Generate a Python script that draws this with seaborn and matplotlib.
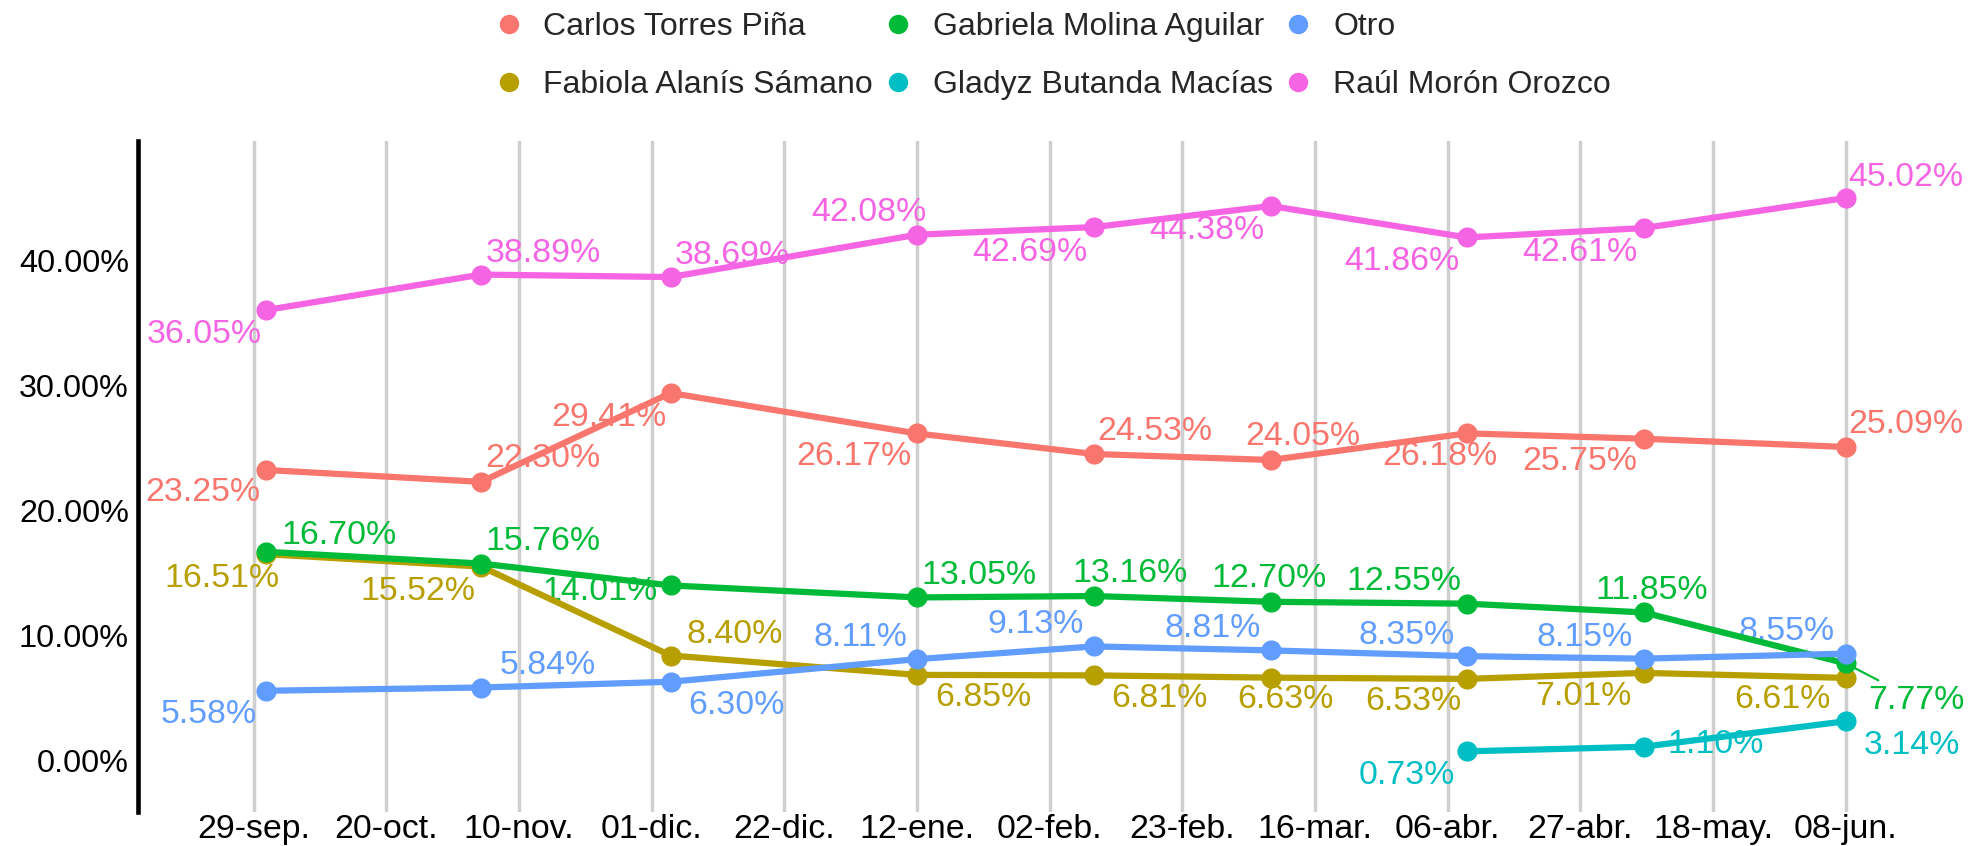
import numpy as np
import pandas as pd
import matplotlib
matplotlib.use("Agg")
import matplotlib.pyplot as plt
import matplotlib.dates as mdates
from matplotlib.lines import Line2D
import seaborn as sns

# ---------------- data ----------------
poll_dates = ["2024-10-01", "2024-11-04", "2024-12-04", "2025-01-12", "2025-02-09",
              "2025-03-09", "2025-04-09", "2025-05-07", "2025-06-08"]

carlos   = [23.25, 22.30, 29.41, 26.17, 24.53, 24.05, 26.18, 25.75, 25.09]
fabiola  = [16.51, 15.52, 8.40, 6.85, 6.81, 6.63, 6.53, 7.01, 6.61]
gabriela = [16.70, 15.76, 14.01, 13.05, 13.16, 12.70, 12.55, 11.85, 7.77]
gladyz   = [None, None, None, None, None, None, 0.73, 1.10, 3.14]
otro     = [5.58, 5.84, 6.30, 8.11, 9.13, 8.81, 8.35, 8.15, 8.55]
raul     = [36.05, 38.89, 38.69, 42.08, 42.69, 44.38, 41.86, 42.61, 45.02]

candidates = ["Carlos Torres Piña", "Fabiola Alanís Sámano", "Gabriela Molina Aguilar",
              "Gladyz Butanda Macías", "Otro", "Raúl Morón Orozco"]
series = [carlos, fabiola, gabriela, gladyz, otro, raul]

tick_dates = ["2024-09-29", "2024-10-20", "2024-11-10", "2024-12-01", "2024-12-22",
              "2025-01-12", "2025-02-02", "2025-02-23", "2025-03-16", "2025-04-06",
              "2025-04-27", "2025-05-18", "2025-06-08"]
tick_labels = ["29-sep.", "20-oct.", "10-nov.", "01-dic.", "22-dic.", "12-ene.", "02-feb.",
               "23-feb.", "16-mar.", "06-abr.", "27-abr.", "18-may.", "08-jun."]
y_ticks = [0, 10, 20, 30, 40]

# ---------------- style ----------------
colors = ["#F8766D", "#B79F00", "#00BA38", "#00BFC4", "#619CFF", "#F564E3"]

# label offsets (pixels, text centre relative to point)
label_offsets = {
    "Carlos Torres Piña": [(-63, -23), (62, 23), (-62, -24), (-63, -23), (61, 22),
                           (32, 23), (-27, -23), (-64, -23), (60, 22)],
    "Fabiola Alanís Sámano": [(-44, -24), (-63, -25), (64, 21), (66, -23), (66, -23),
                              (15, -22), (-53, -23), (-60, -24), (-63, -22)],
    "Gabriela Molina Aguilar": [(73, 16), (62, 22), (-71, -6), (62, 22), (36, 23),
                                (-2, 23), (-63, 22), (8, 22), (71, -37)],
    "Gladyz Butanda Macías": [None, None, None, None, None, None,
                              (-60, -24), (72, 2), (66, -24)],
    "Otro": [(-58, -24), (67, 22), (66, -24), (-57, 22), (-58, 22),
             (-58, 22), (-60, 21), (-59, 21), (-59, 22)],
    "Raúl Morón Orozco": [(-62, -24), (62, 21), (62, 22), (-48, 22), (-64, -25),
                          (-64, -25), (-65, -24), (-64, -24), (60, 20)],
}

sns.set_theme(style="white")
plt.rcParams["font.family"] = ["Liberation Sans", "DejaVu Sans"]

rows = []
for name, vals in zip(candidates, series):
    for d, v in zip(poll_dates, vals):
        if v is not None:
            rows.append({"fecha": pd.Timestamp(d), "candidato": name, "valor": v})
df = pd.DataFrame(rows)

fig = plt.figure(figsize=(19.69, 8.46), dpi=100)
ax = fig.add_axes([138 / 1969, 1 - 811.7 / 846, 1 - 138 / 1969, (811.7 - 141) / 846])

palette = dict(zip(candidates, colors))
sns.lineplot(data=df, x="fecha", y="valor", hue="candidato", hue_order=candidates,
             palette=palette, linewidth=4.5, marker="o", markersize=14.5,
             markeredgewidth=0, legend=False, ax=ax, zorder=3)

# labels
for name, vals, col in zip(candidates, series, colors):
    for d, v, off in zip(poll_dates, vals, label_offsets[name]):
        if v is None:
            continue
        xy = (mdates.date2num(pd.Timestamp(d)), v)
        kw = {}
        if name == "Gabriela Molina Aguilar" and d == poll_dates[-1]:
            kw["arrowprops"] = dict(arrowstyle="-", color=col, lw=1.6,
                                    shrinkA=2, shrinkB=0)
        ax.annotate(f"{v:.2f}%", xy=xy, xytext=off, textcoords="offset pixels",
                    ha="center", va="center", color=col, fontsize=24.4,
                    zorder=2, **kw)

# axes styling
tick_nums = [mdates.date2num(pd.Timestamp(t)) for t in tick_dates]
ax.set_xticks(tick_nums)
ax.set_xticklabels(tick_labels)
ax.set_xlim(mdates.date2num(pd.Timestamp(tick_dates[0])) - 18.3,
            mdates.date2num(pd.Timestamp(tick_dates[-1])) + 19.5)
ax.set_ylim(-4.1, 49.58)
ax.set_yticks(y_ticks)
ax.set_yticklabels([f"{t:.2f}%" for t in y_ticks])
ax.set_xlabel("")
ax.set_ylabel("")
ax.grid(False)
ax.xaxis.grid(True, color="#CFCFCF", linewidth=2.5)
ax.set_axisbelow(True)
for s in ["top", "right", "bottom"]:
    ax.spines[s].set_visible(False)
ax.spines["left"].set_color("black")
ax.spines["left"].set_linewidth(3.3)
ax.tick_params(axis="x", length=0, pad=2, labelsize=24.4, labelcolor="black")
ax.tick_params(axis="y", length=0, pad=6.5, labelsize=23.3, labelcolor="black")
ax.set_facecolor("white")
fig.patch.set_facecolor("white")

# legend
handles = [Line2D([], [], linestyle="none", marker="o", markersize=14,
                  markerfacecolor=c, markeredgewidth=0) for c in colors]
fig.legend(handles, candidates, ncol=3, loc="upper left",
           bbox_to_anchor=(499 / 1969, 0.986), frameon=False, fontsize=23,
           handlelength=0.6, handletextpad=0.79, columnspacing=0.49,
           labelspacing=0.89, borderpad=0, borderaxespad=0)

fig.savefig("out.png", dpi=100)
